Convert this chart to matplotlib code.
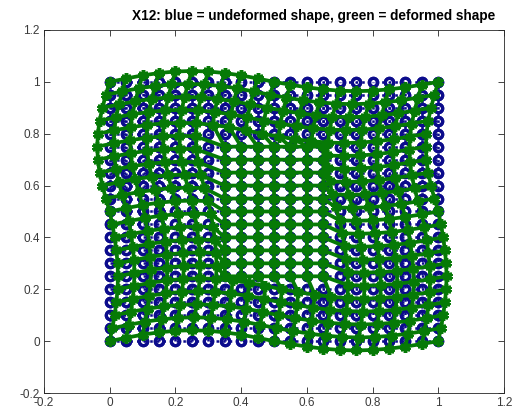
import numpy as np
import matplotlib
matplotlib.use("Agg")
import matplotlib.pyplot as plt

# Undeformed grid node coordinates (21 x 21 mesh on the unit square)
grid_x = [0.00, 0.05, 0.10, 0.15, 0.20, 0.25, 0.30, 0.35, 0.40, 0.45, 0.50,
          0.55, 0.60, 0.65, 0.70, 0.75, 0.80, 0.85, 0.90, 0.95, 1.00]
grid_y = [0.00, 0.05, 0.10, 0.15, 0.20, 0.25, 0.30, 0.35, 0.40, 0.45, 0.50,
          0.55, 0.60, 0.65, 0.70, 0.75, 0.80, 0.85, 0.90, 0.95, 1.00]

# Horizontal displacement of each row (by grid_y)
ux_by_row = [0.000, 0.008, 0.015, 0.020, 0.024, 0.025, 0.024, 0.020, 0.015, 0.008,
             0.000, -0.012, -0.022, -0.031, -0.036, -0.038, -0.036, -0.031, -0.022, -0.012, 0.000]
# Vertical displacement of each column (by grid_x)
uy_by_col = [0.000, 0.013, 0.025, 0.034, 0.040, 0.042, 0.040, 0.034, 0.025, 0.013,
             0.000, -0.011, -0.021, -0.029, -0.034, -0.036, -0.034, -0.029, -0.021, -0.011, 0.000]

# Rigid (undisplaced) central block of the deformed mesh
block_x = [0.35, 0.65]
block_y = [0.25, 0.75]

title = "X12: blue = undeformed shape, green = deformed shape"
xticks = [-0.2, 0, 0.2, 0.4, 0.6, 0.8, 1, 1.2]
yticks = [-0.2, 0, 0.2, 0.4, 0.6, 0.8, 1, 1.2]
xtick_labels = ["-0.2", "0", "0.2", "0.4", "0.6", "0.8", "1", "1.2"]
ytick_labels = ["-0.2", "0", "0.2", "0.4", "0.6", "0.8", "1", "1.2"]

plt.rcParams['font.family'] = ['Liberation Sans', 'DejaVu Sans']

X, Y = np.meshgrid(np.array(grid_x), np.array(grid_y))
UX = np.tile(np.array(ux_by_row)[:, None], (1, len(grid_x)))
UY = np.tile(np.array(uy_by_col)[None, :], (len(grid_y), 1))
eps = 1e-9
inside = ((X >= block_x[0] - eps) & (X <= block_x[1] + eps) &
          (Y >= block_y[0] - eps) & (Y <= block_y[1] + eps))
UX[inside] = 0.0
UY[inside] = 0.0
XD = X + UX
YD = Y + UY

fig = plt.figure(figsize=(5.16, 4.20), dpi=100)
ax = fig.add_axes([44/516, 27/420, 460/516, 363/420])

blue = '#0c0c8c'
green = '#067a06'

# undeformed: rows and columns
for k in range(X.shape[0]):
    ax.plot(X[k, :], Y[k, :], linestyle=':', color=blue, lw=1.8,
            marker='o', ms=6.0, mew=2.3, mfc='none', mec=blue, zorder=2)
for k in range(X.shape[1]):
    ax.plot(X[:, k], Y[:, k], linestyle=':', color=blue, lw=1.8,
            marker='o', ms=6.0, mew=2.3, mfc='none', mec=blue, zorder=2)

# deformed: rows and columns
for k in range(XD.shape[0]):
    ax.plot(XD[k, :], YD[k, :], linestyle='-', color=green, lw=2.7,
            marker=(6, 2, 0), ms=7.5, mew=2.4, mec=green, zorder=3)
for k in range(XD.shape[1]):
    ax.plot(XD[:, k], YD[:, k], linestyle='-', color=green, lw=2.7,
            marker=(6, 2, 0), ms=7.5, mew=2.4, mec=green, zorder=3)

ax.set_xlim(-0.2, 1.2)
ax.set_ylim(-0.2, 1.2)
ax.set_xticks(xticks)
ax.set_xticklabels(xtick_labels)
ax.set_yticks(yticks)
ax.set_yticklabels(ytick_labels)
ax.tick_params(direction='in', top=True, right=True, length=4, width=0.6,
               colors='#262626', labelsize=8.5, pad=3)
for lab in ax.get_xticklabels() + ax.get_yticklabels():
    lab.set_color('#3a3a3a')
for s in ax.spines.values():
    s.set_color('#262626')
    s.set_linewidth(0.6)
fig.text(314/516, 1 - 16/420, title, fontsize=9.8, fontweight='bold',
         color='black', ha='center', va='center')

fig.savefig('out.png', dpi=100)
